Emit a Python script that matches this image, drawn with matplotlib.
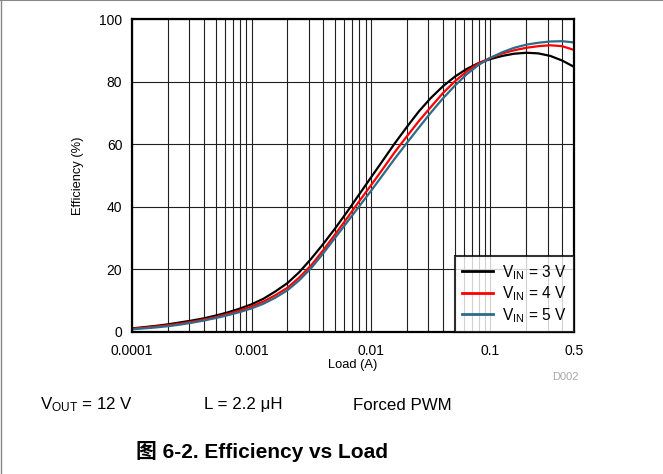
import matplotlib
matplotlib.use('Agg')
import matplotlib.pyplot as plt
from matplotlib.lines import Line2D
from matplotlib.ticker import LogLocator, FixedLocator, FixedFormatter, NullFormatter

FONT = ['Liberation Sans', 'Noto Sans CJK SC', 'DejaVu Sans']
plt.rcParams['font.family'] = FONT
plt.rcParams['mathtext.fontset'] = 'custom'
plt.rcParams['mathtext.rm'] = 'Liberation Sans'

# load points in A (10 per decade), efficiency in %
load = [0.0001, 0.000126, 0.000158, 0.0002, 0.000251, 0.000316, 0.000398, 0.000501,
        0.000631, 0.000794,
        0.001, 0.00126, 0.00158, 0.002, 0.00251, 0.00316, 0.00398, 0.00501,
        0.00631, 0.00794,
        0.01, 0.0126, 0.0158, 0.02, 0.0251, 0.0316, 0.0398, 0.0501,
        0.0631, 0.0794,
        0.1, 0.126, 0.158, 0.2, 0.251, 0.316, 0.398, 0.5]

eff_3v = [1.0, 1.4, 1.8, 2.3, 2.9, 3.5, 4.2, 5.1, 6.1, 7.3,
          8.7, 10.5, 12.8, 15.5, 19.0, 23.3, 28.0, 33.0, 38.3, 43.8,
          49.3, 54.8, 60.2, 65.5, 70.4, 74.7, 78.4, 81.5, 84.0, 85.9,
          87.2, 88.2, 88.9, 89.2, 89.0, 88.2, 86.7, 84.7]

eff_4v = [0.9, 1.2, 1.6, 2.0, 2.5, 3.1, 3.8, 4.6, 5.6, 6.7,
          8.0, 9.6, 11.6, 14.0, 17.3, 21.2, 26.0, 31.1, 36.3, 41.6,
          46.8, 52.1, 57.4, 62.5, 67.3, 71.8, 76.2, 80.0, 83.2, 85.8,
          87.6, 89.0, 90.0, 90.8, 91.3, 91.6, 91.3, 90.1]

eff_5v = [0.7, 1.0, 1.3, 1.7, 2.2, 2.8, 3.5, 4.3, 5.2, 6.2,
          7.4, 8.9, 10.8, 13.2, 16.4, 20.3, 25.0, 30.0, 35.0, 40.0,
          45.0, 50.2, 55.3, 60.4, 65.2, 70.0, 74.5, 78.6, 82.3, 85.3,
          87.6, 89.4, 90.8, 91.8, 92.4, 92.8, 92.9, 92.5]

series = [
    (eff_3v, 'black', r'$\mathregular{V_{IN}}$ = 3 V'),
    (eff_4v, '#ff0000', r'$\mathregular{V_{IN}}$ = 4 V'),
    (eff_5v, '#2f6a86', r'$\mathregular{V_{IN}}$ = 5 V'),
]

x_ticks = [0.0001, 0.001, 0.01, 0.1, 0.5]
x_labels = ['0.0001', '0.001', '0.01', '0.1', '0.5']
y_ticks = [0, 20, 40, 60, 80, 100]

fig = plt.figure(figsize=(6.63, 4.74), dpi=100)
ax = fig.add_axes([0.1991, 0.3006, 0.6667, 0.6593])

for eff, color, label in series:
    ax.plot(load, eff, color=color, lw=1.6, label=label, zorder=3)

ax.set_xscale('log')
ax.set_xlim(0.0001, 0.5)
ax.set_ylim(0, 100)
ax.xaxis.set_major_locator(FixedLocator(x_ticks))
ax.xaxis.set_major_formatter(FixedFormatter(x_labels))
ax.xaxis.set_minor_locator(LogLocator(base=10, subs=range(2, 10)))
ax.xaxis.set_minor_formatter(NullFormatter())
ax.set_yticks(y_ticks)

ax.grid(True, which='both', axis='x', color='#202020', lw=0.8)
ax.grid(True, which='major', axis='y', color='#202020', lw=0.8)
ax.tick_params(which='both', length=0)
ax.tick_params(axis='x', pad=9, labelsize=10)
ax.tick_params(axis='y', pad=7, labelsize=10)
for s in ax.spines.values():
    s.set_linewidth(1.6)
    s.set_zorder(5)

ax.set_xlabel('Load (A)', fontsize=9.3, labelpad=1)
ax.set_ylabel('Efficiency (%)', fontsize=9.3, labelpad=11)

leg = ax.legend(loc='lower right', fontsize=11.2, frameon=True, fancybox=False,
                borderaxespad=0, handlelength=2.0, handletextpad=0.6,
                labelspacing=0.18, borderpad=0.45)
leg.get_frame().set_edgecolor('black')
leg.get_frame().set_linewidth(1.5)
leg.set_zorder(6)
for h in leg.legend_handles:
    h.set_linewidth(2)

fig.text(565 / 663, 1 - 377 / 474, 'D002', color='#a8a8a8', fontsize=8,
         ha='center', va='center')

fig.text(40 / 663, 1 - 405 / 474, r'$\mathregular{V_{OUT}}$ = 12 V', fontsize=12.2,
         ha='left', va='center')
fig.text(204 / 663, 1 - 405 / 474, 'L = 2.2 μH', fontsize=12.2, ha='left', va='center')
fig.text(353 / 663, 1 - 405 / 474, 'Forced PWM', fontsize=12.2, ha='left', va='center')
fig.text(262 / 663, 1 - 451 / 474, '图 6-2. Efficiency vs Load', fontsize=15,
         fontweight='bold', ha='center', va='center', family=FONT)

# page border on top and left
fig.add_artist(Line2D([0, 1], [0.999, 0.999], transform=fig.transFigure,
                      color='#888888', lw=1.5))
fig.add_artist(Line2D([0.0008, 0.0008], [0, 1], transform=fig.transFigure,
                      color='#888888', lw=1.0))

fig.savefig('out.png', dpi=100)
